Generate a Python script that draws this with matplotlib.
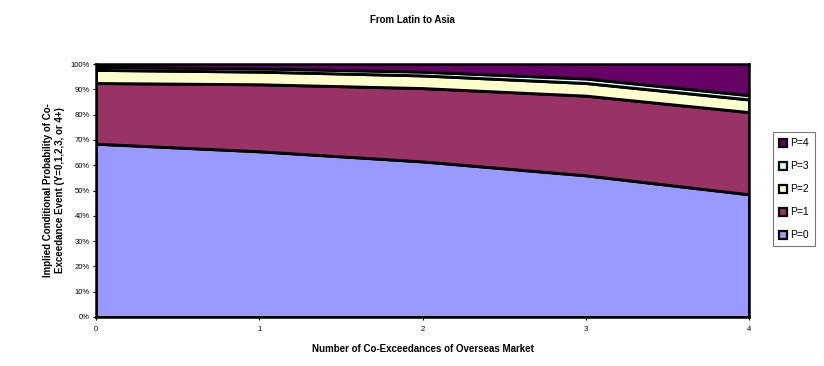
import numpy as np
import matplotlib.pyplot as plt
from matplotlib.patches import Patch
from matplotlib.ticker import PercentFormatter

plt.rcParams['font.family'] = ['Liberation Sans', 'DejaVu Sans']

# so lan dong vuot nguong cua thi truong nuoc ngoai
x = [0, 1, 2, 3, 4]

# xac suat co dieu kien (%) cho tung muc P
p0 = [68.5, 65.5, 61.5, 56.0, 48.5]
p1 = [24.0, 26.5, 29.0, 31.5, 32.5]
p2 = [5.2, 5.0, 5.0, 5.0, 5.0]
p3 = [1.2, 1.3, 1.5, 1.8, 1.7]
p4 = [1.1, 1.7, 3.0, 5.7, 12.3]

labels = ['P=0', 'P=1', 'P=2', 'P=3', 'P=4']
colors = ['#9999FF', '#993366', '#FFFFCC', '#CCFFFF', '#660066']

fig = plt.figure(figsize=(8.24, 3.66), dpi=100)
ax = fig.add_axes([0.1165, 0.134, 0.7925, 0.691])

ax.stackplot(x, p0, p1, p2, p3, p4, colors=colors,
             edgecolor='black', linewidth=2.1)

ax.set_xlim(0, 4)
ax.set_ylim(0, 100)
ax.set_xticks(x)
ax.set_yticks(np.arange(0, 101, 10))
ax.yaxis.set_major_formatter(PercentFormatter(decimals=0))
ax.tick_params(labelsize=5.5, length=2.5, width=0.8, pad=2)
ax.tick_params(axis='x', pad=4)
for s in ax.spines.values():
    s.set_linewidth(1.8)

fig.text(0.5, 0.945, 'From Latin to Asia', ha='center', va='center',
         fontsize=7, fontweight='bold')
ax.set_xlabel('Number of Co-Exceedances of Overseas Market',
              fontsize=7, fontweight='bold', labelpad=8)
ax.set_ylabel('Implied Conditional Probability of Co-\nExceedance Event (Y=0,1,2,3, or 4+)',
              fontsize=7, fontweight='bold', labelpad=4)

# chu giai theo thu tu nguoc
handles = [Patch(facecolor=c, edgecolor='black', linewidth=1.6)
           for c in colors][::-1]
leg = fig.legend(handles, labels[::-1], loc='upper left',
                 bbox_to_anchor=(0.938, 0.638), fontsize=7.5,
                 frameon=True, fancybox=False, edgecolor='#555555',
                 handlelength=0.8, handleheight=0.8, handletextpad=0.3,
                 labelspacing=1.25, borderpad=0.55, borderaxespad=0)
leg.get_frame().set_linewidth(0.8)

fig.savefig('out.png', dpi=100)
